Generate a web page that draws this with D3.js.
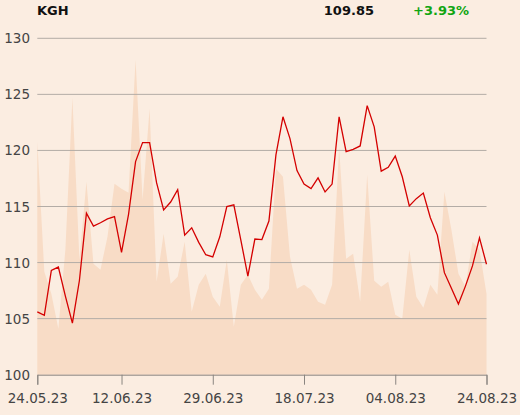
<!DOCTYPE html>
<html>
<head>
<meta charset="utf-8">
<script src="https://cdn.jsdelivr.net/npm/d3@7"></script>
<style>
  html, body { margin: 0; padding: 0; background: #fbede1; }
  svg { display: block; font-family: "DejaVu Sans", sans-serif; }
</style>
</head>
<body>
<div id="chart"></div>
<script>
// KGH daily close, 24.05.23 - 24.08.23 (trading days)
const prices = [105.6, 105.3, 109.3, 109.6, 107.0, 104.6, 108.4, 114.4, 113.25, 113.55,
  113.9, 114.1, 110.9, 114.3, 119.0, 120.7, 120.7, 117.1, 114.7, 115.4,
  116.5, 112.45, 113.1, 111.8, 110.7, 110.5, 112.3, 115.0, 115.15, 112.0,
  108.8, 112.1, 112.05, 113.7, 119.6, 123.0, 121.05, 118.2, 117.0, 116.6,
  117.55, 116.3, 117.0, 123.0, 119.9, 120.1, 120.4, 124.0, 122.1, 118.15,
  118.5, 119.5, 117.65, 115.05, 115.7, 116.2, 114.0, 112.45, 109.1, 107.7,
  106.3, 107.9, 109.7, 112.2, 109.85];

// volume (thousands) drawn as the background area
const volumes = [2330, 1030, 810, 460, 1250, 2770, 1150, 1930, 1110, 1050,
  1380, 1910, 1860, 1820, 3150, 1750, 2660, 930, 1410, 910,
  980, 1330, 630, 900, 1010, 780, 680, 1150, 480, 900,
  1000, 850, 750, 860, 2060, 1980, 1180, 860, 900, 850,
  730, 700, 900, 2280, 1160, 1210, 730, 2000, 940, 880,
  930, 600, 560, 1250, 780, 670, 900, 800, 1830, 1450,
  1010, 880, 1330, 1250, 810];

const tickIdx = [0, 12, 25, 38, 51, 64];
const tickLabels = ['24.05.23', '12.06.23', '29.06.23', '18.07.23', '04.08.23', '24.08.23'];
const yTicks = [100, 105, 110, 115, 120, 125, 130];

const ticker = 'KGH';
const lastPrice = '109.85';
const change = '+3.93%';

const width = 520, height = 415;
const plotLeft = 37.3, plotRight = 486.5, plotTop = 38.3, plotBottom = 374.7;

const svg = d3.select('#chart').append('svg')
  .attr('width', width)
  .attr('height', height);

svg.append('rect')
  .attr('width', width).attr('height', height)
  .attr('fill', '#fbede1');

const x = d3.scaleLinear().domain([0, prices.length - 1]).range([plotLeft, plotRight]);
const y = d3.scaleLinear().domain([100, 130]).range([plotBottom, plotTop]);
const yVol = d3.scaleLinear().domain([0, 3364]).range([plotBottom, plotTop]);

// volume area
const area = d3.area()
  .x((d, i) => x(i))
  .y0(plotBottom)
  .y1(d => yVol(d));

svg.append('path')
  .datum(volumes)
  .attr('d', area)
  .attr('fill', '#f8dcc6');

// gridlines
svg.append('g')
  .selectAll('line')
  .data(yTicks.slice(1))
  .join('line')
  .attr('x1', plotLeft).attr('x2', plotRight)
  .attr('y1', d => y(d)).attr('y2', d => y(d))
  .attr('stroke', '#b3aca6')
  .attr('stroke-width', 1);

// y labels
svg.append('g')
  .selectAll('text')
  .data(yTicks)
  .join('text')
  .attr('x', 30)
  .attr('y', d => y(d) + 5)
  .attr('text-anchor', 'end')
  .attr('font-size', '13.5px')
  .attr('fill', '#444')
  .text(d => d);

// x axis
const xAxis = d3.axisBottom(x)
  .tickValues(tickIdx)
  .tickSize(10)
  .tickPadding(9)
  .tickFormat((d, i) => tickLabels[i]);

const gx = svg.append('g')
  .attr('transform', `translate(0,${plotBottom})`)
  .call(xAxis);
gx.select('.domain').attr('stroke', '#8a8580');
gx.selectAll('.tick line').attr('stroke', '#8a8580');
gx.selectAll('.tick text')
  .attr('font-family', '"DejaVu Sans", sans-serif')
  .attr('font-size', '13.5px')
  .attr('fill', '#444');

// price line
const line = d3.line()
  .x((d, i) => x(i))
  .y(d => y(d));

svg.append('path')
  .datum(prices)
  .attr('d', line)
  .attr('fill', 'none')
  .attr('stroke', '#d40000')
  .attr('stroke-width', 1.3)
  .attr('stroke-linejoin', 'miter');

// header
svg.append('text')
  .attr('x', 37).attr('y', 15)
  .attr('font-size', '13px').attr('font-weight', 'bold')
  .attr('fill', '#111')
  .text(ticker);

svg.append('text')
  .attr('x', 374).attr('y', 15)
  .attr('text-anchor', 'end')
  .attr('font-size', '13px').attr('font-weight', 'bold')
  .attr('fill', '#111')
  .text(lastPrice);

svg.append('text')
  .attr('x', 413).attr('y', 15)
  .attr('font-size', '13px').attr('font-weight', 'bold')
  .attr('fill', '#11a511')
  .text(change);
</script>
</body>
</html>
